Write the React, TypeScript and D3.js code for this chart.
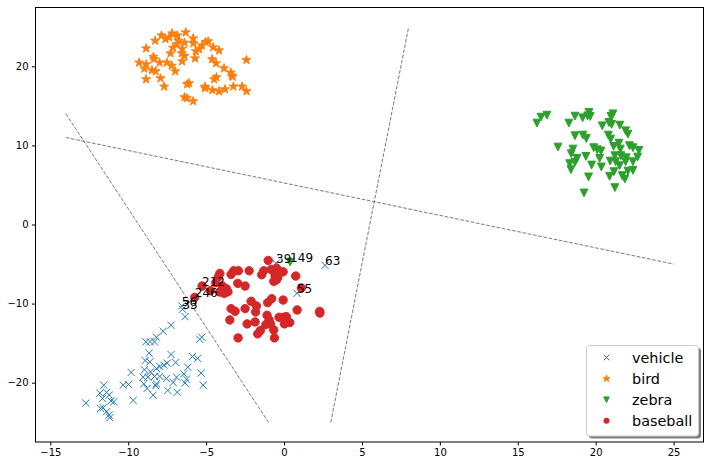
import React, { useEffect, useRef } from 'react';
import * as d3 from 'd3';

// points per class
const vehicle: [number, number][] = [
  [-0.51, -4.92], [2.63, -5.17], [0.83, -8.7], [-6.56, -10.3], [-6.52, -10.72],
  [-6.35, -11.65], [-7.25, -12.74], [-7.76, -13.5], [-8.19, -14.25], [-8.31, -14.84],
  [-8.87, -14.84], [-5.41, -14.51], [-5.28, -14.25], [-8.66, -16.27], [-8.91, -17.2],
  [-8.61, -17.36], [-7.25, -16.44], [-7.5, -17.53], [-6.95, -17.45], [-5.88, -16.69],
  [-5.54, -16.94], [-7.97, -17.95], [-8.19, -18.21], [-7.72, -17.78], [-6.18, -18.04],
  [-8.96, -18.37], [-8.57, -18.63], [-9.81, -18.71], [-5.32, -18.79], [-9.04, -19.3],
  [-8.74, -19.3], [-8.31, -19.21], [-7.97, -19.21], [-7.55, -19.47], [-6.9, -19.3],
  [-6.43, -18.88], [-6.26, -19.55], [-7.12, -19.97], [-6.35, -20.05], [-10.32, -20.31],
  [-9.98, -20.22], [-9.0, -20.14], [-8.19, -20.14], [-8.23, -20.39], [-8.79, -20.73],
  [-7.46, -20.98], [-6.86, -21.23], [-5.19, -20.31], [-11.57, -20.31], [-11.82, -21.32],
  [-11.39, -21.23], [-11.22, -21.57], [-11.65, -21.99], [-11.1, -22.32], [-10.92, -22.41],
  [-8.4, -21.57], [-9.68, -22.24], [-12.72, -22.58], [-11.78, -23.25], [-11.61, -23.17],
  [-11.39, -23.67], [-11.22, -24.09], [-11.18, -24.43], [-8.6, -14.8],
];

const bird: [number, number][] = [
  [-6.31, 24.29], [-7.18, 24.17], [-7.87, 23.91], [-6.84, 23.91], [-5.83, 23.53],
  [-7.37, 23.66], [-7.61, 23.45], [-8.27, 23.24], [-6.79, 23.24], [-6.39, 22.99],
  [-5.81, 22.9], [-6.87, 22.82], [-4.87, 23.16], [-5.04, 23.07], [-5.26, 22.65],
  [-7.12, 22.36], [-6.54, 22.23], [-5.45, 22.15], [-5.66, 21.9], [-4.55, 22.4],
  [-4.17, 22.02], [-8.85, 22.27], [-7.29, 21.64], [-6.56, 21.64], [-8.38, 21.22],
  [-6.39, 21.31], [-8.34, 20.93], [-5.71, 21.01], [-4.62, 20.89], [-2.41, 20.8],
  [-9.3, 20.47], [-8.85, 20.26], [-7.99, 20.47], [-7.52, 20.47], [-6.54, 20.63],
  [-4.36, 20.38], [-7.2, 20.09], [-8.97, 19.71], [-8.48, 19.5], [-8.24, 19.37],
  [-6.98, 19.37], [-3.85, 19.75], [-3.42, 19.21], [-3.35, 18.83], [-3.29, 18.7],
  [-8.85, 18.36], [-7.93, 18.49], [-4.34, 18.62], [-4.49, 18.36], [-6.09, 17.86],
  [-6.22, 17.73], [-7.69, 17.44], [-5.08, 17.44], [-5.06, 17.23], [-3.25, 17.44],
  [-2.69, 17.44], [-4.6, 16.98], [-4.17, 16.85], [-3.79, 17.1], [-2.41, 16.85],
  [-6.39, 16.09], [-6.24, 15.97], [-5.83, 15.59],
];

const zebra: [number, number][] = [
  [16.23, 12.82], [16.49, 13.57], [16.87, 13.82], [18.67, 13.7], [19.16, 13.49],
  [19.57, 14.16], [19.65, 13.66], [19.48, 13.74], [21.11, 13.99], [20.98, 13.66],
  [18.28, 12.82], [20.42, 12.48], [20.85, 12.9], [21.02, 12.65], [21.55, 12.56],
  [21.92, 11.85], [22.07, 11.43], [18.67, 11.22], [19.18, 11.3], [19.4, 10.88],
  [20.81, 11.3], [20.96, 10.8], [21.49, 10.29], [21.15, 9.87], [17.58, 9.79],
  [18.54, 9.54], [19.87, 9.71], [20.1, 9.45], [20.34, 9.29], [22.17, 9.96],
  [22.39, 9.71], [22.77, 9.37], [18.43, 8.95], [18.8, 8.36], [19.37, 8.61],
  [20.25, 8.36], [21.23, 8.7], [21.62, 8.7], [21.96, 8.44], [22.69, 8.53],
  [18.33, 7.69], [18.67, 7.86], [19.74, 7.52], [20.36, 7.27], [20.93, 8.02],
  [21.28, 7.94], [21.53, 7.44], [21.92, 7.94], [22.39, 7.94], [18.41, 6.93],
  [21.17, 6.68], [20.89, 6.09], [21.7, 6.18], [22.07, 6.76], [22.39, 6.85],
  [21.87, 5.75], [19.54, 6.01], [21.23, 4.66], [19.25, 3.99], [21.58, 9.54],
  [0.39, -4.75],
];

const baseball: [number, number][] = [
  [-1.02, -4.54], [-1.3, -5.85], [-1.43, -6.35], [-0.83, -5.68], [-0.49, -5.51],
  [-0.32, -5.93], [-0.06, -5.98], [-0.58, -6.44], [-0.4, -6.69], [-0.66, -7.19],
  [-0.49, -7.02], [0.75, -6.52], [-2.24, -5.85], [-2.93, -5.85], [-3.23, -5.85],
  [-3.4, -6.31], [-4.12, -6.18], [-4.21, -6.6], [-2.97, -7.44], [-2.5, -7.78],
  [-4.38, -7.36], [-3.95, -7.78], [-3.7, -8.12], [-4.12, -8.54], [-3.83, -8.71],
  [-4.72, -8.37], [-5.26, -7.78], [-5.73, -9.21], [1.11, -8.03], [-2.11, -9.71],
  [-1.77, -10.3], [-1.05, -9.88], [-0.79, -9.38], [-0.06, -9.55], [-2.5, -10.64],
  [-1.82, -11.06], [-3.4, -10.64], [-3.14, -10.98], [-3.48, -12.07], [-2.37, -12.57],
  [-1.86, -12.32], [-1.09, -11.48], [-0.96, -12.07], [-1.17, -12.66], [-0.87, -12.57],
  [-0.32, -11.73], [-0.02, -11.73], [0.15, -11.65], [0.02, -12.57], [0.37, -12.4],
  [-0.66, -13.33], [-1.52, -13.41], [-1.69, -13.83], [-0.62, -14.34], [-2.95, -14.34],
  [0.84, -10.81], [2.29, -10.98], [2.3, -11.2], [-4.0, -8.3], [-3.6, -8.5],
];

// dashed separators, [x1, y1, x2, y2]
const separators: [number, number, number, number][] = [
  [-14, 14, -1, -25],
  [-14, 11, 25, -5],
  [3, -25, 8, 25],
];

const noteLabels = ['39', '149', '63', '55', '212', '246', '56', '33'];
const notePoints: [number, number][] = [
  [-0.51, -4.92], [0.39, -4.75], [2.63, -5.17], [0.83, -8.7],
  [-5.26, -7.78], [-5.73, -9.21], [-6.56, -10.3], [-6.52, -10.72],
];

const classNames = ['vehicle', 'bird', 'zebra', 'baseball'];
const classColors = ['#1f77b4', '#ff7f0e', '#2ca02c', '#d62728'];
const xTicks = [-15, -10, -5, 0, 5, 10, 15, 20, 25];
const yTicks = [-20, -10, 0, 10, 20];

const FONT = 'DejaVu Sans, sans-serif';

// marker path centred on 0,0, r = half size
const markerPath = (kind: number, r: number): string => {
  if (kind === 0) {
    return `M${-r},${-r}L${r},${r}M${-r},${r}L${r},${-r}`;
  }
  if (kind === 1) {
    const pts: string[] = [];
    for (let i = 0; i < 10; i++) {
      const rad = i % 2 === 0 ? r : r * 0.381966;
      const a = -Math.PI / 2 + (i * Math.PI) / 5;
      pts.push(`${rad * Math.cos(a)},${rad * Math.sin(a)}`);
    }
    return 'M' + pts.join('L') + 'Z';
  }
  if (kind === 2) {
    return `M${-r},${-r}L${r},${-r}L0,${r}Z`;
  }
  return '';
};

const App = () => {
  const ref = useRef<SVGSVGElement>(null);

  useEffect(() => {
    document.body.style.margin = '0';
    const svg = d3.select(ref.current);
    svg.selectAll('*').remove();

    const x = d3.scaleLinear().domain([-15.95, 26.95]).range([35.5, 704]);
    const y = d3.scaleLinear().domain([-27.5, 27.5]).range([442, 7]);

    svg.append('rect').attr('width', 711).attr('height', 466).attr('fill', '#fff');

    // separators
    svg.selectAll('.sep')
      .data(separators)
      .enter()
      .append('line')
      .attr('x1', d => x(d[0]))
      .attr('y1', d => y(d[1]))
      .attr('x2', d => x(d[2]))
      .attr('y2', d => y(d[3]))
      .attr('stroke', '#7a7a7a')
      .attr('stroke-width', 1)
      .attr('stroke-dasharray', '3.7,1.6');

    const groups = [vehicle, bird, zebra, baseball];
    groups.forEach((pts, k) => {
      const col = classColors[k];
      const g = svg.append('g');
      if (k === 3) {
        g.selectAll('circle')
          .data(pts)
          .enter()
          .append('circle')
          .attr('cx', d => x(d[0]))
          .attr('cy', d => y(d[1]))
          .attr('r', 4.2)
          .attr('fill', col)
          .attr('stroke', col)
          .attr('stroke-width', 1);
      } else {
        const r = k === 0 ? 3.6 : k === 1 ? 4.7 : 3.9;
        g.selectAll('path')
          .data(pts)
          .enter()
          .append('path')
          .attr('transform', d => `translate(${x(d[0])},${y(d[1])})`)
          .attr('d', markerPath(k, r))
          .attr('fill', k === 0 ? 'none' : col)
          .attr('stroke', col)
          .attr('stroke-width', 1)
          .attr('stroke-linejoin', 'miter');
      }
    });

    // annotations
    svg.selectAll('.note')
      .data(noteLabels)
      .enter()
      .append('text')
      .attr('x', (d, i) => x(notePoints[i][0]))
      .attr('y', (d, i) => y(notePoints[i][1]))
      .attr('font-family', FONT)
      .attr('font-size', 12)
      .attr('fill', '#000')
      .text(d => d);

    // frame
    svg.append('rect')
      .attr('x', 35.5).attr('y', 7.5)
      .attr('width', 668).attr('height', 434.5)
      .attr('fill', 'none')
      .attr('stroke', '#000')
      .attr('stroke-width', 1);

    // axes
    const xAxis = d3.axisBottom(x).tickValues(xTicks).tickSize(3.5).tickPadding(3.5)
      .tickFormat(d => d3.format('')(d as number).replace('-', '\u2212'));
    const yAxis = d3.axisLeft(y).tickValues(yTicks).tickSize(3.5).tickPadding(3.5)
      .tickFormat(d => d3.format('')(d as number).replace('-', '\u2212'));
    const gx = svg.append('g').attr('transform', 'translate(0,442)').call(xAxis);
    const gy = svg.append('g').attr('transform', 'translate(35.5,0)').call(yAxis);
    [gx, gy].forEach(g => {
      g.select('.domain').remove();
      g.selectAll('text').attr('font-family', FONT).attr('font-size', 10).attr('fill', '#000');
      g.selectAll('line').attr('stroke', '#000');
    });

    // legend
    const lx = 586.5, ly = 345.5, lw = 112, lh = 90.5;
    svg.append('rect')
      .attr('x', lx + 2.5).attr('y', ly + 2.5)
      .attr('width', lw).attr('height', lh)
      .attr('rx', 3)
      .attr('fill', '#000')
      .attr('opacity', 0.5);
    svg.append('rect')
      .attr('x', lx).attr('y', ly)
      .attr('width', lw).attr('height', lh)
      .attr('rx', 3)
      .attr('fill', '#fff')
      .attr('stroke', '#cccccc')
      .attr('stroke-width', 1);

    const leg = svg.selectAll('.leg')
      .data(classNames)
      .enter()
      .append('g')
      .attr('transform', (d, i) => `translate(${lx + 20},${ly + 12 + i * 21.1})`);
    leg.each(function (d, i) {
      const g = d3.select(this);
      const col = classColors[i];
      if (i === 3) {
        g.append('circle').attr('r', 3).attr('fill', col);
      } else {
        g.append('path')
          .attr('d', markerPath(i, i === 1 ? 3.6 : 2.8))
          .attr('fill', i === 0 ? 'none' : col)
          .attr('stroke', col)
          .attr('stroke-width', 1);
      }
    });
    leg.append('text')
      .attr('x', 25.5)
      .attr('y', 5.2)
      .attr('font-family', FONT)
      .attr('font-size', 14.4)
      .attr('fill', '#000')
      .text(d => d);
  }, []);

  return (
    <div style={{ position: 'absolute', left: 0, top: 0 }}>
      <svg ref={ref} width={711} height={466} style={{ display: 'block' }}></svg>
    </div>
  );
};

export default App;
